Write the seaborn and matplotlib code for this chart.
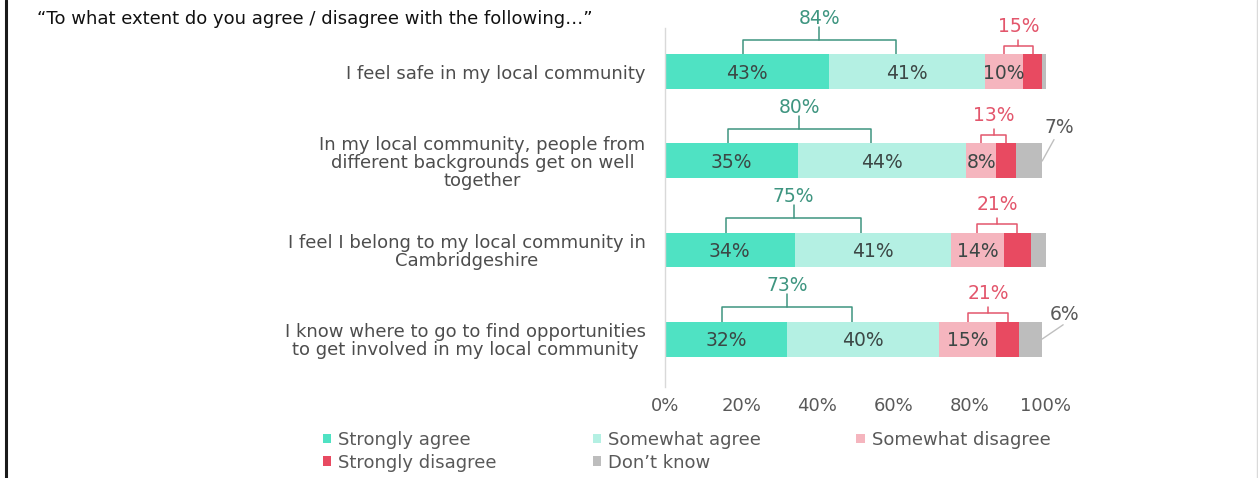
import numpy as np
import pandas as pd
import matplotlib
matplotlib.use("Agg")
import matplotlib.pyplot as plt
import seaborn as sns
from matplotlib.lines import Line2D
from matplotlib.patches import Patch

# Survey statements and response shares (%)
statements = [
    "I feel safe in my local community",
    "In my local community, people from\ndifferent backgrounds get on well\ntogether",
    "I feel I belong to my local community in\nCambridgeshire",
    "I know where to go to find opportunities\nto get involved in my local community",
]
strongly_agree = [43, 35, 34, 32]
somewhat_agree = [41, 44, 41, 40]
somewhat_disagree = [10, 8, 14, 15]
strongly_disagree = [5, 5, 7, 6]
dont_know = [1, 7, 4, 6]
agree_net = [84, 80, 75, 73]
disagree_net = [15, 13, 21, 21]
responses = ["Strongly agree", "Somewhat agree", "Somewhat disagree",
             "Strongly disagree", "Don\u2019t know"]
x_ticks = [0, 20, 40, 60, 80, 100]
title = "\u201cTo what extent do you agree / disagree with the following\u2026\u201d"

colors = ["#4FE2C3", "#B4F0E3", "#F5B5BE", "#E84A61", "#BDBDBD"]
green_txt = "#3E9580"
red_txt = "#E3566C"
value_txt = "#3C4745"
grey_txt = "#595959"

sns.set_theme(style="white")
plt.rcParams["font.family"] = ["DejaVu Sans"]

W, H = 1258, 478
fig = plt.figure(figsize=(W / 100, H / 100), dpi=100)
ax = fig.add_axes([665 / W, 1 - 387 / H, (1046 - 665) / W, (387 - 28) / H])

series = [strongly_agree, somewhat_agree, somewhat_disagree, strongly_disagree, dont_know]
vals = np.array(series, dtype=float).T          # rows x responses
cum = np.cumsum(vals, axis=1)
bar_h = 0.393

# Stacked bars: draw cumulative totals from the outermost segment inwards
for k in reversed(range(len(responses))):
    df = pd.DataFrame({"statement": statements, "total": cum[:, k]})
    sns.barplot(data=df, x="total", y="statement", orient="h", color=colors[k],
                saturation=1, width=bar_h, linewidth=0, ax=ax)

ax.set_xlim(0, 100)
ax.set_ylim(3.539, -0.494)
ax.set_xlabel("")
ax.set_ylabel("")
ax.set_xticks(x_ticks)
ax.set_xticklabels([f"{t}%" for t in x_ticks])
ax.tick_params(axis="x", length=0, pad=7, labelsize=13, labelcolor=grey_txt)
ax.tick_params(axis="y", length=0, pad=14, labelsize=13, labelcolor="#4D4D4D")
for lbl in ax.get_yticklabels():
    lbl.set_multialignment("center")
    lbl.set_linespacing(1.02)
for s in ["top", "right", "bottom"]:
    ax.spines[s].set_visible(False)
ax.spines["left"].set_color("#D9D9D9")
ax.spines["left"].set_linewidth(1.0)
ax.grid(False)


def bracket(x0, x1, y_base, leg, tick, color):
    xm = (x0 + x1) / 2
    yh = y_base - leg
    ax.plot([x0, x0, x1, x1], [y_base, yh, yh, y_base], color=color, lw=1.1,
            solid_joinstyle="round", solid_capstyle="butt", clip_on=False)
    ax.plot([xm, xm], [yh, yh - tick], color=color, lw=1.1, clip_on=False)
    return xm


for i in range(len(statements)):
    sa, swa, swd, sd, dk = vals[i]
    top = i - bar_h / 2
    # value labels inside the first three segments
    for k in range(3):
        ax.text(cum[i, k] - vals[i, k] / 2, i + 0.02, f"{int(vals[i, k])}%",
                ha="center", va="center", fontsize=13.5, color=value_txt)
    # net agree bracket
    xm = bracket(sa / 2 - 1, sa + swa / 2 - 3, top, 0.16, 0.15, green_txt)
    ax.text(xm, top - 0.40, f"{agree_net[i]}%", ha="center", va="center",
            fontsize=13.5, color=green_txt, clip_on=False)
    # net disagree bracket
    base = sa + swa
    xm = bracket(base + swd / 2, base + swd + sd / 2, top, 0.10, 0.06, red_txt)
    ax.text(xm, top - 0.31, f"{disagree_net[i]}%", ha="center", va="center",
            fontsize=13.5, color=red_txt, clip_on=False)

# Call-outs for the larger "don't know" shares
callouts = {1: (3.1, -0.24, 4.5, -0.38), 3: (5.5, -0.16, 6.0, -0.27)}
for i, (lx, ly, tx, ty) in callouts.items():
    end = cum[i, -1]
    ax.plot([end, end + lx], [i, i + ly], color="#BFBFBF", lw=1.0, clip_on=False)
    ax.text(end + tx, i + ty, f"{int(dont_know[i])}%", ha="center", va="center",
            fontsize=13.5, color=grey_txt, clip_on=False)

# Title
fig.text(37 / W, 1 - 19 / H, title, ha="left", va="center", fontsize=13, color="#111111")

# Legend (row-wise order across three columns)
handles = [Patch(facecolor=c, edgecolor="none") for c in colors]
order = [0, 3, 1, 4, 2]
fig.legend([handles[j] for j in order], [responses[j] for j in order],
           loc="upper left", bbox_to_anchor=(323 / W, 1 - 431 / H), ncol=3,
           frameon=False, fontsize=13, labelcolor=grey_txt,
           handlelength=0.45, handleheight=0.45, handletextpad=0.4,
           columnspacing=5.3, labelspacing=0.25, borderpad=0, borderaxespad=0)

# Slide frame edges
fig.add_artist(Line2D([6 / W, 6 / W], [0, 1], color="#1A1A1A", lw=2.2))
fig.add_artist(Line2D([1257 / W, 1257 / W], [0, 1], color="#DADADA", lw=1.0))

fig.savefig("out.png", dpi=100)
